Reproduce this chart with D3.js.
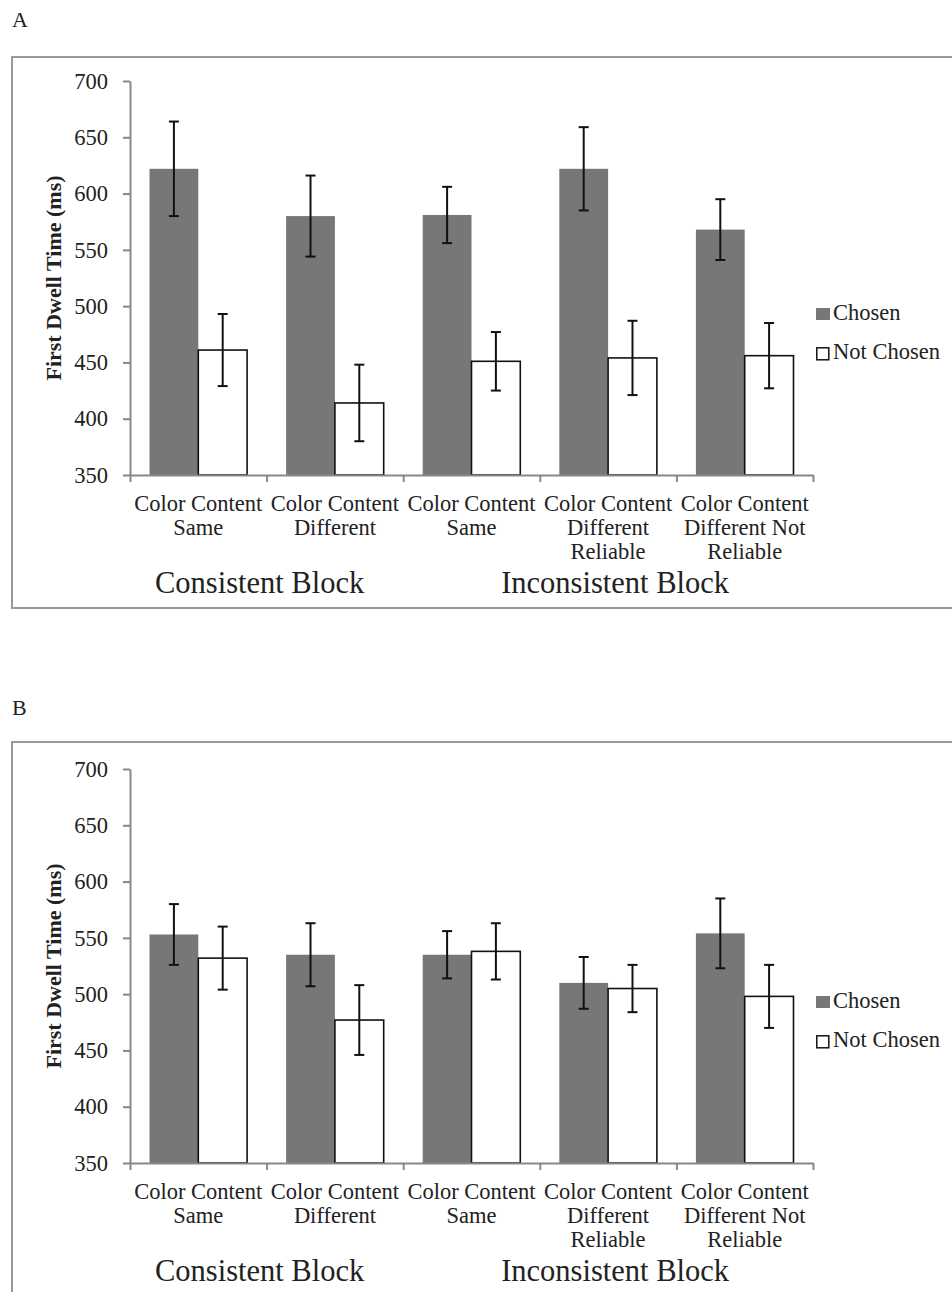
<!DOCTYPE html>
<html>
<head>
<meta charset="utf-8">
<script src="https://cdn.jsdelivr.net/npm/d3@7"></script>
<style>
  html, body { margin: 0; padding: 0; background: #fff; }
  svg { display: block; }
  text { font-family: "Liberation Serif", serif; fill: #222; }
</style>
</head>
<body>
<svg id="chart" width="952" height="1292"></svg>
<script>
// ---- data ----
const categories = [
  ["Color Content", "Same"],
  ["Color Content", "Different"],
  ["Color Content", "Same"],
  ["Color Content", "Different", "Reliable"],
  ["Color Content", "Different Not", "Reliable"]
];
const seriesNames = ["Chosen", "Not Chosen"];
const blockLabels = ["Consistent Block", "Inconsistent Block"];
const yTicks = [350, 400, 450, 500, 550, 600, 650, 700];

const chosenA = [622, 580, 581, 622, 568];
const chosenErrA = [42, 36, 25, 37, 27];
const notChosenA = [461, 414, 451, 454, 456];
const notChosenErrA = [32, 34, 26, 33, 29];

const chosenB = [553, 535, 535, 510, 554];
const chosenErrB = [27, 28, 21, 23, 31];
const notChosenB = [532, 477, 538, 505, 498];
const notChosenErrB = [28, 31, 25, 21, 28];

// ---- layout ----
const svg = d3.select("#chart");
const axisLeftX = 130, axisRightX = 813;
const plotTop = 81, plotBottom = 475;
const colors = { "Chosen": "#777777", "Not Chosen": "#ffffff" };

function drawPanel(letter, offY, frameTop, frameBottom, chosen, chosenErr, notChosen, notChosenErr) {
  const g = svg.append("g").attr("transform", `translate(0,${offY})`);

  // panel letter
  svg.append("text").attr("x", 12).attr("y", offY + 27)
    .style("font-size", "22px").text(letter);

  // frame
  const fb = frameBottom == null ? 1400 : frameBottom;
  svg.append("rect").attr("x", 12).attr("y", frameTop)
    .attr("width", 1000).attr("height", fb - frameTop)
    .attr("fill", "none").attr("stroke", "#999").attr("stroke-width", 2);

  const y = d3.scaleLinear().domain([350, 700]).range([plotBottom, plotTop]);
  const x = d3.scaleBand().domain(d3.range(categories.length))
    .range([axisLeftX, axisRightX]).paddingInner(0).paddingOuter(0);
  const xs = d3.scaleBand().domain(seriesNames).range([0, x.bandwidth()])
    .paddingInner(0).paddingOuter(0.4);

  const rows = categories.map((c, i) => ({
    i,
    vals: [
      { s: "Chosen", v: chosen[i], e: chosenErr[i] },
      { s: "Not Chosen", v: notChosen[i], e: notChosenErr[i] }
    ]
  }));

  // bars
  const cg = g.selectAll("g.cat").data(rows).join("g").attr("class", "cat")
    .attr("transform", d => `translate(${x(d.i)},0)`);
  cg.selectAll("rect").data(d => d.vals).join("rect")
    .attr("x", d => xs(d.s)).attr("width", xs.bandwidth())
    .attr("y", d => y(d.v)).attr("height", d => y(350) - y(d.v))
    .attr("fill", d => colors[d.s])
    .attr("stroke", d => d.s === "Chosen" ? "none" : "#111")
    .attr("stroke-width", 1.6);

  // error bars
  const eb = cg.selectAll("g.err").data(d => d.vals).join("g").attr("class", "err")
    .attr("transform", d => `translate(${xs(d.s) + xs.bandwidth() / 2},0)`)
    .attr("stroke", "#111").attr("stroke-width", 2);
  eb.append("line").attr("x1", 0).attr("x2", 0)
    .attr("y1", d => y(d.v + d.e)).attr("y2", d => y(d.v - d.e));
  eb.append("line").attr("x1", -5).attr("x2", 5)
    .attr("y1", d => y(d.v + d.e)).attr("y2", d => y(d.v + d.e));
  eb.append("line").attr("x1", -5).attr("x2", 5)
    .attr("y1", d => y(d.v - d.e)).attr("y2", d => y(d.v - d.e));

  // y axis
  const ya = g.append("g").attr("transform", `translate(${axisLeftX},0)`)
    .call(d3.axisLeft(y).tickValues(yTicks).tickSize(7).tickSizeOuter(0).tickPadding(15).tickFormat(d3.format("d")));
  ya.select(".domain").attr("stroke", "#888").attr("stroke-width", 2);
  ya.selectAll(".tick line").attr("stroke", "#888").attr("stroke-width", 2);
  ya.selectAll(".tick text").style("font-family", "Liberation Serif, serif")
    .style("font-size", "22.5px").attr("fill", "#222");

  // x axis (category boundaries)
  const xb = d3.scaleLinear().domain([0, categories.length]).range([axisLeftX, axisRightX]);
  const xa = g.append("g").attr("transform", `translate(0,${plotBottom})`)
    .call(d3.axisBottom(xb).tickValues(d3.range(categories.length + 1)).tickSize(7).tickSizeOuter(0).tickFormat(""));
  xa.select(".domain").attr("stroke", "#888").attr("stroke-width", 2);
  xa.selectAll(".tick line").attr("stroke", "#888").attr("stroke-width", 2);

  // category labels
  const lab = g.selectAll("text.cat").data(categories).join("text").attr("class", "cat")
    .attr("text-anchor", "middle").style("font-size", "22.5px");
  lab.each(function(lines, i) {
    const t = d3.select(this);
    lines.forEach((ln, k) => {
      t.append("tspan").attr("x", x(i) + x.bandwidth() / 2)
        .attr("y", plotBottom + 36 + k * 24).text(ln);
    });
  });

  // block labels
  const blockCenters = [
    (x(0) + x(1) + x.bandwidth()) / 2 - 7,
    (x(2) + x(4) + x.bandwidth()) / 2 + 7
  ];
  g.selectAll("text.block").data(blockLabels).join("text").attr("class", "block")
    .attr("text-anchor", "middle").attr("x", (d, i) => blockCenters[i])
    .attr("y", plotBottom + 118).style("font-size", "30.5px").text(d => d);

  // y title
  g.append("text").attr("transform", "rotate(-90)")
    .attr("x", -(plotTop + plotBottom) / 2).attr("y", 61)
    .attr("text-anchor", "middle").style("font-size", "22px").style("font-weight", "bold")
    .text("First Dwell Time (ms)");

  // legend
  const lg = g.append("g").attr("transform", `translate(816,0)`);
  const li = lg.selectAll("g").data(seriesNames).join("g")
    .attr("transform", (d, i) => `translate(0,${308 + i * 39})`);
  li.append("rect").attr("x", d => d === "Chosen" ? 0 : 0.8).attr("y", d => d === "Chosen" ? 0 : 0.8)
    .attr("width", d => d === "Chosen" ? 14 : 12).attr("height", 12)
    .attr("fill", d => colors[d])
    .attr("stroke", d => d === "Chosen" ? "none" : "#111").attr("stroke-width", 1.5);
  li.append("text").attr("x", 17).attr("y", 12).style("font-size", "22.5px").text(d => d);
}

drawPanel("A", 0, 57, 608, chosenA, chosenErrA, notChosenA, notChosenErrA);
drawPanel("B", 688, 742, null, chosenB, chosenErrB, notChosenB, notChosenErrB);
</script>
</body>
</html>
